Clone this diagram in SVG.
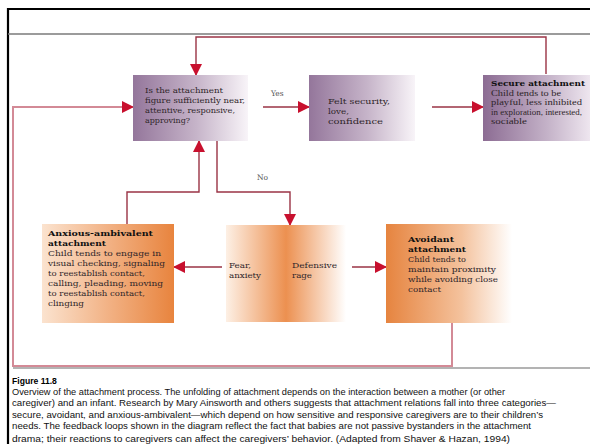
<svg xmlns="http://www.w3.org/2000/svg" width="590" height="444" viewBox="0 0 590 444">
<style>
.frame{stroke:#000;stroke-width:2.2;fill:none}
.rule{stroke:#7a7a7a;stroke-width:1.6;fill:none}
.conn{stroke:#9a3345;stroke-width:1.4;fill:none}
.loop{stroke:#d38a96;stroke-width:2;fill:none}
.bt{font-family:"DejaVu Serif","Liberation Serif",serif;font-size:8.2px;fill:#2e2529}
.bn{font-family:"Liberation Serif","Times New Roman",serif;font-size:8.6px;fill:#2e2529}
.hd{font-family:"DejaVu Serif","Liberation Serif",serif;font-size:8.2px;font-weight:bold;fill:#111}
.lbl{font-family:"DejaVu Serif","Liberation Serif",serif;font-size:7.5px;fill:#555}
.cap{font-family:"Liberation Sans",Arial,sans-serif;font-size:8.6px;fill:#111}
.capb{font-family:"Liberation Sans",Arial,sans-serif;font-size:8.6px;font-weight:bold;fill:#000}
</style>
<defs>
<linearGradient id="gPurple" x1="0" y1="0" x2="1" y2="0">
<stop offset="0" stop-color="#94769b"/><stop offset="0.55" stop-color="#c6b4c9"/><stop offset="1" stop-color="#f8f4f8"/>
</linearGradient>
<linearGradient id="gPurpleDark" x1="0" y1="0" x2="1" y2="0">
<stop offset="0" stop-color="#8c6c93"/><stop offset="0.6" stop-color="#c4b2c8"/><stop offset="1" stop-color="#eee6ef"/>
</linearGradient>
<linearGradient id="gAnx" x1="0" y1="0" x2="1" y2="0">
<stop offset="0" stop-color="#fbe3cf"/><stop offset="0.5" stop-color="#f2b285"/><stop offset="1" stop-color="#e8843e"/>
</linearGradient>
<linearGradient id="gMid" x1="0" y1="0" x2="1" y2="0">
<stop offset="0" stop-color="#fdf0e5"/><stop offset="0.5" stop-color="#ec9050"/><stop offset="1" stop-color="#ffffff"/>
</linearGradient>
<linearGradient id="gAvo" x1="0" y1="0" x2="1" y2="0">
<stop offset="0" stop-color="#e6843f"/><stop offset="0.6" stop-color="#f4c29d"/><stop offset="1" stop-color="#ffffff"/>
</linearGradient>
<marker id="ah" markerUnits="userSpaceOnUse" markerWidth="12" markerHeight="12" viewBox="0 0 12 12" refX="11" refY="6" orient="auto">
<path d="M0,0 L12,6 L0,12 z" fill="#c8102e"/>
</marker>
</defs>

<rect x="0" y="0" width="590" height="444" fill="#fff"/>

<g id="frame">
<path class="frame" d="M8,444 V9 H590"/>
<path class="rule" d="M8,34 H590"/>
<path d="M13,368 H590" stroke="#9a9a9a" stroke-width="1.5" fill="none"/>
</g>

<g id="connectors">
<path class="conn" d="M546,74 V37 H196 V75" marker-end="url(#ah)"/>
<path class="loop" d="M452,323 V366 H13 V107 H133" marker-end="url(#ah)"/>
<path class="conn" d="M263,107 H309" marker-end="url(#ah)"/>
<path class="conn" d="M432,107 H483" marker-end="url(#ah)"/>
<path class="conn" d="M217,141 V192 H290 V225" marker-end="url(#ah)"/>
<path class="conn" d="M127,224 V192 H199 V141" marker-end="url(#ah)"/>
<path class="conn" d="M222,267 H174" marker-end="url(#ah)"/>
<path class="conn" d="M352,267 H386" marker-end="url(#ah)"/>
<text class="lbl" x="271" y="96">Yes</text>
<text class="lbl" x="257" y="180">No</text>
</g>

<g id="question">
<rect x="133" y="75" width="115" height="66" fill="url(#gPurple)"/>
<text class="bt" x="145" y="93" textLength="78" lengthAdjust="spacingAndGlyphs">Is the attachment</text>
<text class="bt" x="145" y="103" textLength="100" lengthAdjust="spacingAndGlyphs">figure sufficiently near,</text>
<text class="bt" x="145" y="113" textLength="90" lengthAdjust="spacingAndGlyphs">attentive, responsive,</text>
<text class="bt" x="145" y="123" textLength="45" lengthAdjust="spacingAndGlyphs">approving?</text>
</g>

<g id="felt-security">
<rect x="309" y="75" width="106" height="66" fill="url(#gPurple)"/>
<text class="bt" x="328" y="104" textLength="62" lengthAdjust="spacingAndGlyphs">Felt security,</text>
<text class="bt" x="328" y="114" textLength="21" lengthAdjust="spacingAndGlyphs">love,</text>
<text class="bt" x="328" y="124" textLength="55" lengthAdjust="spacingAndGlyphs">confidence</text>
</g>

<g id="secure">
<rect x="483" y="75" width="107" height="66" fill="url(#gPurpleDark)"/>
<text class="hd" x="491" y="86" textLength="94" lengthAdjust="spacingAndGlyphs">Secure attachment</text>
<text class="bn" x="491" y="95.5" textLength="70" lengthAdjust="spacingAndGlyphs">Child tends to be</text>
<text class="bn" x="491" y="105" textLength="91" lengthAdjust="spacingAndGlyphs">playful, less inhibited</text>
<text class="bn" x="491" y="114.5" textLength="91" lengthAdjust="spacingAndGlyphs">in exploration, interested,</text>
<text class="bn" x="491" y="124" textLength="36" lengthAdjust="spacingAndGlyphs">sociable</text>
</g>

<g id="anxious">
<rect x="42" y="224" width="132" height="99" fill="url(#gAnx)"/>
<text class="hd" x="48" y="236" textLength="105" lengthAdjust="spacingAndGlyphs">Anxious-ambivalent</text>
<text class="hd" x="48" y="246" textLength="58" lengthAdjust="spacingAndGlyphs">attachment</text>
<text class="bt" x="48" y="256" textLength="113" lengthAdjust="spacingAndGlyphs">Child tends to engage in</text>
<text class="bt" x="48" y="266" textLength="117" lengthAdjust="spacingAndGlyphs">visual checking, signaling</text>
<text class="bt" x="48" y="276" textLength="97" lengthAdjust="spacingAndGlyphs">to reestablish contact,</text>
<text class="bt" x="48" y="286" textLength="115" lengthAdjust="spacingAndGlyphs">calling, pleading, moving</text>
<text class="bt" x="48" y="296" textLength="97" lengthAdjust="spacingAndGlyphs">to reestablish contact,</text>
<text class="bt" x="48" y="306" textLength="36" lengthAdjust="spacingAndGlyphs">clinging</text>
</g>

<g id="fear-rage">
<rect x="226" y="225" width="120" height="97" fill="url(#gMid)"/>
<text class="bt" x="229" y="268" textLength="22" lengthAdjust="spacingAndGlyphs">Fear,</text>
<text class="bt" x="229" y="278" textLength="32" lengthAdjust="spacingAndGlyphs">anxiety</text>
<text class="bt" x="292" y="268" textLength="45" lengthAdjust="spacingAndGlyphs">Defensive</text>
<text class="bt" x="292" y="278" textLength="20" lengthAdjust="spacingAndGlyphs">rage</text>
</g>

<g id="avoidant">
<rect x="386" y="224" width="126" height="99" fill="url(#gAvo)"/>
<text class="hd" x="408" y="242" textLength="46" lengthAdjust="spacingAndGlyphs">Avoidant</text>
<text class="hd" x="408" y="252" textLength="58" lengthAdjust="spacingAndGlyphs">attachment</text>
<text class="bt" x="408" y="262" textLength="58" lengthAdjust="spacingAndGlyphs">Child tends to</text>
<text class="bt" x="408" y="272" textLength="88" lengthAdjust="spacingAndGlyphs">maintain proximity</text>
<text class="bt" x="408" y="282" textLength="90" lengthAdjust="spacingAndGlyphs">while avoiding close</text>
<text class="bt" x="408" y="292" textLength="33" lengthAdjust="spacingAndGlyphs">contact</text>
</g>

<g id="caption">
<text class="capb" x="12" y="384">Figure 11.8</text>
<text class="cap" x="12" y="395" textLength="493" lengthAdjust="spacingAndGlyphs">Overview of the attachment process. The unfolding of attachment depends on the interaction between a mother (or other</text>
<text class="cap" x="12" y="406.3" textLength="544" lengthAdjust="spacingAndGlyphs">caregiver) and an infant. Research by Mary Ainsworth and others suggests that attachment relations fall into three categories—</text>
<text class="cap" x="12" y="417.6" textLength="531" lengthAdjust="spacingAndGlyphs">secure, avoidant, and anxious-ambivalent—which depend on how sensitive and responsive caregivers are to their children’s</text>
<text class="cap" x="12" y="428.9" textLength="519" lengthAdjust="spacingAndGlyphs">needs. The feedback loops shown in the diagram reflect the fact that babies are not passive bystanders in the attachment</text>
<text class="cap" x="12" y="441.5" textLength="498" lengthAdjust="spacingAndGlyphs">drama; their reactions to caregivers can affect the caregivers’ behavior. (Adapted from Shaver &amp; Hazan, 1994)</text>
</g>
</svg>
